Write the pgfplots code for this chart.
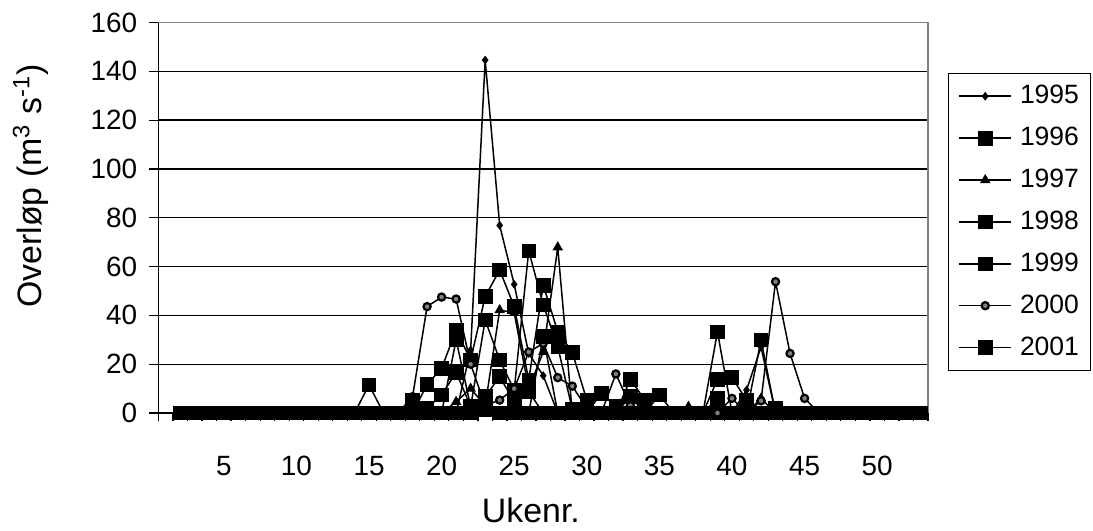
\documentclass[border=0pt]{standalone}
\usepackage{fontspec}
\setmainfont{Liberation Sans}
\usepackage{pgfplots}
\usepackage{pgfplotstable}
\pgfplotsset{compat=1.18}

% weekly overflow, one column per year
\pgfplotstableread{
week y1995 y1996 y1997 y1998 y1999 y2000 y2001
2  0     0    0    0    0    0    0
3  0     0    0    0    0    0    0
4  0     0    0    0    0    0    0
5  0     0    0    0    0    0    0
6  0     0    0    0    0    0    0
7  0     0    0    0    0    0    0
8  0     0    0    0    0    0    0
9  0     0    0    0    0    0    0
10 0     0    0    0    0    0    0
11 0     0    0    0    0    0    0
12 0     0    0    0    0    0    0
13 0     0    0    0    0    0    0
14 0     0    0    0    0    0    0
15 0     11.5 0    0    0    0    0
16 0     0    0    0    0    0    0
17 0     0    0    0    0    0    0
18 0     0    0    0    0    6.7  5.3
19 0     2    0    11.7 0    43.6 0
20 0     7.4  0    18.3 0    47.5 0
21 0     16.7 4.6  34   30   46.7 0
22 25.8  2.6  10   21.7 2.6  20   0
23 144.6 6.7  3    47.7 38.1 3    1.2
24 76.9  14.9 42.2 58.6 21.7 5.3  0
25 52.7  4.6  41   43.6 9.4  10   0
26 24.4  8.7  10   13.5 66.4 25   0
27 15.3  0    25   52.4 44.3 28.5 31.3
28 0     0    67.9 33.3 27.2 14.5 0
29 0     0    0    24.9 1.5  11   0
30 0     0    0    5.3  0    2    0
31 0     0    0    0    8    0    0
32 0     0    0    0    2.6  16   0
33 0     6.7  0    13.8 0    3    0
34 0     0    0    5.3  0    0    0
35 0     0    0    0    7.4  0    0
36 0     0    0    0    0    0    0
37 0     0    2.6  0    0    0    0
38 0     0    0    0    0    0    0
39 0     0    0    33.3 13.8 0    6
40 0     0    0    0    14.5 6    0
41 9.4   0    0    0    5.3  0    0
42 27    0    6    29.9 0    5    0
43 0     0    0    0    0    53.8 1.9
44 0     0    0    0    0    24.4 0
45 0     0    0    0    0    6    0
46 0     0    0    0    0    0    0
47 0     0    0    0    0    0    0
48 0     0    0    0    0    0    0
49 0     0    0    0    0    0    0
50 0     0    0    0    0    0    0
51 0     0    0    0    0    0    0
52 0     0    0    0    0    0    0
53 0     0    0    0    0    0    0
}\overlop

\newcommand\legfont{\fontsize{13.3}{16}\selectfont}
\newcommand\tickfont{\fontsize{14}{17}\selectfont}
\newcommand\labelfont{\fontsize{17}{20}\selectfont}

\begin{document}
\begin{tikzpicture}
\path[use as bounding box] (-79.25bp,-59bp) rectangle (467.25bp,206.5bp);
\begin{axis}[
  scale only axis,
  width=384.75bp, height=195.25bp,
  xmin=0.5, xmax=53.5, ymin=0, ymax=160,
  clip=false,
  axis x line*=bottom, axis y line*=left,
  axis line style={black, line width=0.6bp},
  tick align=outside,
  major tick length=4.6bp,
  minor tick length=4.2bp,
  tick style={black, line width=0.6bp},
  xtick={5,10,...,50},
  minor xtick={0.5,1.5,...,53.5},
  every major x tick/.append style={draw=none},
  ytick={0,20,...,160},
  ymajorgrids,
  grid style={black, line width=0.65bp},
  xticklabel={\tickfont\pgfmathprintnumber[assume math mode=true]{\tick}},
  yticklabel={\tickfont\pgfmathprintnumber[assume math mode=true]{\tick}},
  xticklabel style={anchor=base, inner sep=0pt, yshift=-26.5bp},
  yticklabel style={anchor=east, inner sep=0pt, xshift=-5.9bp},
  xlabel={Ukenr.},
  xlabel style={at={(axis description cs:0.484,-0.2497)}, anchor=center,
    font=\labelfont},
  ylabel={Overløp (m\textsuperscript{3} s\textsuperscript{-1})},
  ylabel style={at={(axis description cs:-0.166,0.581)}, anchor=center,
    font=\labelfont},
  every axis plot/.append style={black, line width=0.75bp},
  legend image code/.code={\draw[mark repeat=2,mark phase=2,#1]
    plot coordinates {(0bp,0bp) (13bp,0bp) (26bp,0bp)};},
  legend cell align=left,
  legend style={at={(axis description cs:1.026,0.8707)}, anchor=north west,
    draw=black, line width=0.5bp, inner xsep=5bp, inner ysep=5bp,
    font=\legfont,
    nodes={inner sep=1bp}, row sep=8.2bp,
    /tikz/every odd column/.append style={column sep=3bp}},
]
\addplot[mark=diamond*, mark size=1.9bp, mark options={solid, fill=black, line width=0.4bp}]
  table[x=week, y=y1995] {\overlop};
\addlegendentry{1995}
\addplot[mark=square*, mark size=3.4bp, mark options={solid, fill=black, line width=0.4bp}]
  table[x=week, y=y1996] {\overlop};
\addlegendentry{1996}
\addplot[mark=triangle*, mark size=2.6bp, mark options={solid, fill=black, line width=0.4bp}]
  table[x=week, y=y1997] {\overlop};
\addlegendentry{1997}
\addplot[mark=square*, mark size=3.4bp, mark options={solid, fill=black, line width=0.4bp}]
  table[x=week, y=y1998] {\overlop};
\addlegendentry{1998}
\addplot[mark=square*, mark size=3.4bp, mark options={solid, fill=black, line width=0.4bp}]
  table[x=week, y=y1999] {\overlop};
\addlegendentry{1999}
\addplot[mark=*, mark size=1.8bp, mark options={solid, fill=gray, draw=black, line width=1.1bp}]
  table[x=week, y=y2000] {\overlop};
\addlegendentry{2000}
\addplot[mark=square*, mark size=3.4bp, mark options={solid, fill=black, line width=0.4bp}]
  table[x=week, y=y2001] {\overlop};
\addlegendentry{2001}
\draw[gray, line width=0.6bp] (rel axis cs:0,1) -- (rel axis cs:1,1) -- (rel axis cs:1,0);
\end{axis}
\end{tikzpicture}
\end{document}
